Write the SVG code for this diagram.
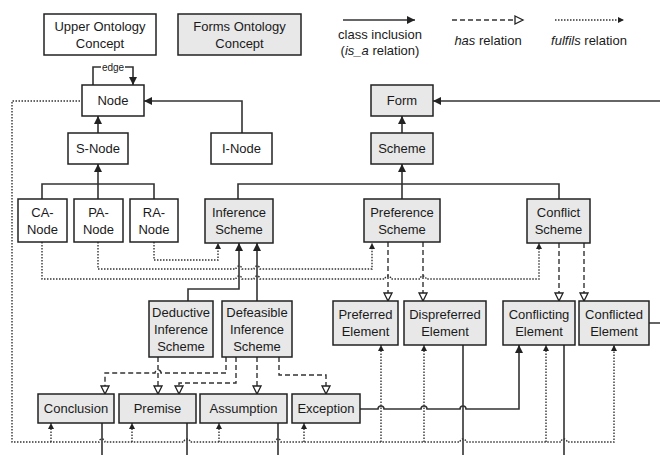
<svg xmlns="http://www.w3.org/2000/svg" width="660" height="455" viewBox="0 0 660 455">
<style>
.t{font-family:"Liberation Sans",Arial,sans-serif;font-size:13px;fill:#1a1a1a;text-anchor:middle}
.s{font-family:"Liberation Sans",Arial,sans-serif;font-size:10px;fill:#1a1a1a;text-anchor:middle}
.w{fill:#ffffff;stroke:#222;stroke-width:1.5}
.g{fill:#e8e8e8;stroke:#222;stroke-width:1.5}
.c{fill:none;stroke:#333;stroke-width:1.6}
.h{fill:none;stroke:#333;stroke-width:1.4;stroke-dasharray:5,3}
.f{fill:none;stroke:#333;stroke-width:1.4;stroke-dasharray:1.5,1.5}
</style>
<defs>
<marker id="ma" markerUnits="userSpaceOnUse" markerWidth="10" markerHeight="10" refX="8" refY="4" orient="auto"><path d="M0,0 L8,4 L0,8 z" fill="#222"/></marker>
<marker id="mh" markerUnits="userSpaceOnUse" markerWidth="12" markerHeight="12" refX="9" refY="5" orient="auto"><path d="M1,1 L9,5 L1,9 z" fill="#fff" stroke="#222" stroke-width="1.3"/></marker>
<marker id="mf" markerUnits="userSpaceOnUse" markerWidth="8" markerHeight="8" refX="6" refY="3" orient="auto"><path d="M0,0 L6,3 L0,6 z" fill="#222"/></marker>
</defs>

<g id="legend">
<g id="legend-upper"><rect class="w" x="44" y="14" width="112" height="41"/><text class="t" x="100" y="31">Upper Ontology</text><text class="t" x="100" y="48">Concept</text></g>
<g id="legend-forms"><rect class="g" x="178" y="14" width="123" height="41"/><text class="t" x="239.5" y="31">Forms Ontology</text><text class="t" x="239.5" y="48">Concept</text></g>
<path class="c" d="M343,20 H415" marker-end="url(#ma)"/>
<text class="t" x="380" y="38.5">class inclusion</text>
<text class="t" x="380" y="54.5">(<tspan font-style="italic">is_a</tspan> relation)</text>
<path class="h" d="M452,20 H523" marker-end="url(#mh)"/>
<text class="t" x="488" y="44.5"><tspan font-style="italic">has</tspan> relation</text>
<path class="f" d="M555,20 H624" marker-end="url(#mf)"/>
<text class="t" x="589" y="44.5"><tspan font-style="italic">fulfils</tspan> relation</text>
</g>

<g id="connectors">
<!-- class inclusion -->
<path class="c" d="M93,85 V67 H101 M125,67 H133 V85" marker-end="url(#ma)"/>
<text class="s" x="113" y="70.5">edge</text>
<path class="c" d="M98,133 V116" marker-end="url(#ma)"/>
<path class="c" d="M242,133 V101 H144" marker-end="url(#ma)"/>
<path class="c" d="M660,101 H433" marker-end="url(#ma)"/>
<path class="c" d="M402,133 V116" marker-end="url(#ma)"/>
<path class="c" d="M42,199 V184 H154 V199"/>
<path class="c" d="M98,199 V164" marker-end="url(#ma)"/>
<path class="c" d="M238,199 V184 H559 V199"/>
<path class="c" d="M402,199 V164" marker-end="url(#ma)"/>
<path class="c" d="M188,301 V289 H239 V243" marker-end="url(#ma)"/>
<path class="c" d="M257,301 V243" marker-end="url(#ma)"/>
<path class="c" d="M360,409 H378 a3,3 0 0 1 6,0 H421 a3,3 0 0 1 6,0 H460 a3,3 0 0 1 6,0 H519 V345" marker-end="url(#ma)"/>
<path class="c" d="M102,423 V455 M187,423 V455 M278,423 V455 M463,345 V455 M564,345 V455 M649,323 H660"/>
<!-- has -->
<path class="h" d="M388,242 V301" marker-end="url(#mh)"/>
<path class="h" d="M423,242 V301" marker-end="url(#mh)"/>
<path class="h" d="M559,243 V301" marker-end="url(#mh)"/>
<path class="h" d="M584,243 V301" marker-end="url(#mh)"/>
<path class="h" d="M226,357 V373 H161 a3,3 0 0 0 -6,0 H105 V394" marker-end="url(#mh)"/>
<path class="h" d="M158,357 V394" marker-end="url(#mh)"/>
<path class="h" d="M236,357 V383 H179 V394" marker-end="url(#mh)"/>
<path class="h" d="M257,357 V394" marker-end="url(#mh)"/>
<path class="h" d="M279,357 V375 H326 V394" marker-end="url(#mh)"/>
<!-- fulfils -->
<path class="f" d="M154,242 V260 H218 V243" marker-end="url(#mf)"/>
<path class="f" d="M98,242 V269 H236 a3,3 0 0 1 6,0 H254 a3,3 0 0 1 6,0 H372 V243" marker-end="url(#mf)"/>
<path class="f" d="M42,242 V279 H236 a3,3 0 0 1 6,0 H254 a3,3 0 0 1 6,0 H385 a3,3 0 0 1 6,0 H420 a3,3 0 0 1 6,0 H539 V243" marker-end="url(#mf)"/>
<path class="f" d="M80,101 H12 V442 H99 a3,3 0 0 1 6,0 H184 a3,3 0 0 1 6,0 H275 a3,3 0 0 1 6,0 H460 a3,3 0 0 1 6,0 H561 a3,3 0 0 1 6,0 H614 V345" marker-end="url(#mf)"/>
<path class="f" d="M51,442 V423" marker-end="url(#mf)"/>
<path class="f" d="M132,442 V423" marker-end="url(#mf)"/>
<path class="f" d="M219,442 V423" marker-end="url(#mf)"/>
<path class="f" d="M304,442 V423" marker-end="url(#mf)"/>
<path class="f" d="M381,442 V345" marker-end="url(#mf)"/>
<path class="f" d="M424,442 V345" marker-end="url(#mf)"/>
<path class="f" d="M546,442 V345" marker-end="url(#mf)"/>
</g>

<g id="node"><rect class="w" x="82" y="85" width="62" height="31"/><text class="t" x="113" y="105">Node</text></g>
<g id="s-node"><rect class="w" x="68" y="133" width="60" height="31"/><text class="t" x="98" y="153">S-Node</text></g>
<g id="i-node"><rect class="w" x="211" y="133" width="61" height="31"/><text class="t" x="241.5" y="153">I-Node</text></g>
<g id="form"><rect class="g" x="371" y="85" width="62" height="31"/><text class="t" x="402" y="105">Form</text></g>
<g id="scheme"><rect class="g" x="371" y="133" width="62" height="31"/><text class="t" x="402" y="153">Scheme</text></g>
<g id="ca-node"><rect class="w" x="18" y="199" width="49" height="43"/><text class="t" x="42.5" y="216.5">CA-</text><text class="t" x="42.5" y="233.5">Node</text></g>
<g id="pa-node"><rect class="w" x="74" y="199" width="49" height="43"/><text class="t" x="98.5" y="216.5">PA-</text><text class="t" x="98.5" y="233.5">Node</text></g>
<g id="ra-node"><rect class="w" x="130" y="199" width="48" height="43"/><text class="t" x="154" y="216.5">RA-</text><text class="t" x="154" y="233.5">Node</text></g>
<g id="inference-scheme"><rect class="g" x="205" y="199" width="68" height="44"/><text class="t" x="239" y="217">Inference</text><text class="t" x="239" y="234">Scheme</text></g>
<g id="preference-scheme"><rect class="g" x="364" y="199" width="76" height="43"/><text class="t" x="402" y="216.5">Preference</text><text class="t" x="402" y="233.5">Scheme</text></g>
<g id="conflict-scheme"><rect class="g" x="527" y="199" width="63" height="44"/><text class="t" x="558.5" y="217">Conflict</text><text class="t" x="558.5" y="234">Scheme</text></g>
<g id="deductive-inference-scheme"><rect class="g" x="149" y="301" width="64" height="56"/><text class="t" x="181" y="316.5">Deductive</text><text class="t" x="181" y="333.5">Inference</text><text class="t" x="181" y="350.5">Scheme</text></g>
<g id="defeasible-inference-scheme"><rect class="g" x="222" y="301" width="70" height="56"/><text class="t" x="257" y="316.5">Defeasible</text><text class="t" x="257" y="333.5">Inference</text><text class="t" x="257" y="350.5">Scheme</text></g>
<g id="preferred-element"><rect class="g" x="333" y="301" width="65" height="44"/><text class="t" x="365.5" y="319">Preferred</text><text class="t" x="365.5" y="336">Element</text></g>
<g id="dispreferred-element"><rect class="g" x="404" y="301" width="82" height="44"/><text class="t" x="445" y="319">Dispreferred</text><text class="t" x="445" y="336">Element</text></g>
<g id="conflicting-element"><rect class="g" x="503" y="301" width="72" height="44"/><text class="t" x="539" y="319">Conflicting</text><text class="t" x="539" y="336">Element</text></g>
<g id="conflicted-element"><rect class="g" x="579" y="301" width="70" height="44"/><text class="t" x="614" y="319">Conflicted</text><text class="t" x="614" y="336">Element</text></g>
<g id="conclusion"><rect class="g" x="38" y="394" width="76" height="29"/><text class="t" x="76" y="413">Conclusion</text></g>
<g id="premise"><rect class="g" x="119" y="394" width="77" height="29"/><text class="t" x="157.5" y="413">Premise</text></g>
<g id="assumption"><rect class="g" x="200" y="394" width="87" height="29"/><text class="t" x="243.5" y="413">Assumption</text></g>
<g id="exception"><rect class="g" x="292" y="394" width="68" height="29"/><text class="t" x="326" y="413">Exception</text></g>
</svg>
